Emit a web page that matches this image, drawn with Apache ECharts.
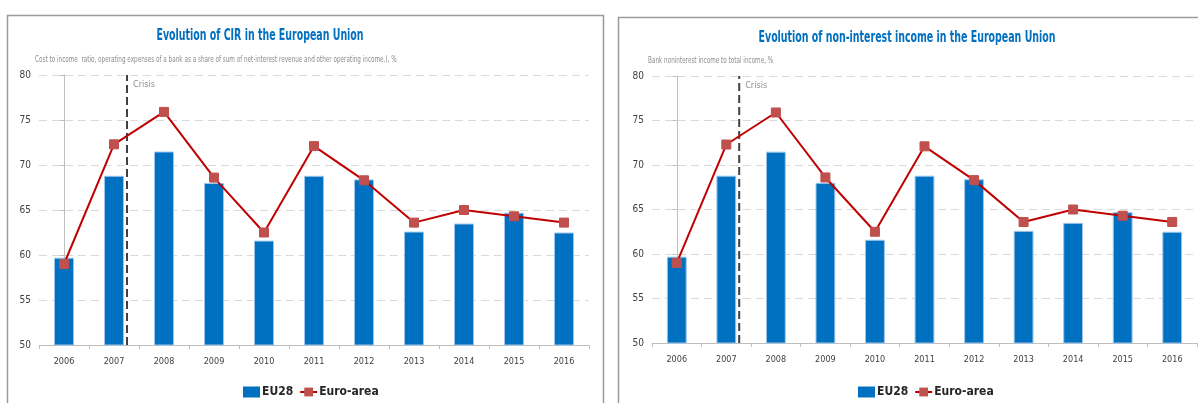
<!DOCTYPE html>
<html><head><meta charset="utf-8">
<script src="https://cdn.jsdelivr.net/npm/echarts@6/dist/echarts.min.js"></script>
<style>html,body{margin:0;padding:0;background:#fff}#c{width:1198px;height:403px}</style>
</head><body><div id="c"></div>
<script>
const years = ['2006','2007','2008','2009','2010','2011','2012','2013','2014','2015','2016'];
const eu28 = [59.7, 68.8, 71.5, 68.0, 61.6, 68.8, 68.4, 62.6, 63.5, 64.7, 62.5];
const euroArea = [59.0, 72.3, 75.9, 68.6, 62.5, 72.1, 68.3, 63.6, 65.0, 64.3, 63.6];
const crisisPos = 1.26;
const yMin = 50, yMax = 80, yStep = 5;
const titles = ['Evolution of CIR in the European Union', 'Evolution of non-interest income in the European Union'];
const subtitles = ['Cost to income  ratio, operating expenses of a bank as a share of sum of net-interest revenue and other operating income.), %', 'Bank noninterest income to total income, %'];

const FONT = '"Liberation Sans Narrow","DejaVu Sans Condensed","Open Sans",sans-serif';
const chart = echarts.init(document.getElementById('c'));

const grids = [
  {left: 39, top: 75, width: 550, height: 270},
  {left: 652, top: 76, width: 545, height: 267}
];
const titleCfg = [
  {x: 260, y: 36, sx: 35, sy: 60},
  {x: 907, y: 38, sx: 648, sy: 61}
];
const legendLeft = [243, 858];

const option = {
  animation: false,
  textStyle: {fontFamily: FONT},
  graphic: [
    {type: 'rect', shape: {x: 7.5, y: 15.5, width: 596, height: 400}, style: {fill: 'none', stroke: '#9a9a9a', lineWidth: 1.5}, silent: true},
    {type: 'rect', shape: {x: 618.5, y: 17.5, width: 600, height: 400}, style: {fill: 'none', stroke: '#9a9a9a', lineWidth: 1.5}, silent: true}
  ],
  legend: [],
  grid: grids,
  xAxis: [],
  yAxis: [],
  series: []
};

for (let p = 0; p < 2; p++) {
  option.graphic.push({
    type: 'text', x: titleCfg[p].x, y: titleCfg[p].y, scaleX: 0.7, silent: true,
    style: {text: titles[p], textAlign: 'center', textVerticalAlign: 'middle',
      font: 'bold 15px ' + FONT, fill: '#0070C0'}
  });
  option.graphic.push({
    type: 'text', x: titleCfg[p].sx, y: titleCfg[p].sy, scaleX: 0.79, silent: true,
    style: {text: subtitles[p], textAlign: 'left', textVerticalAlign: 'middle',
      font: '8px ' + FONT, fill: '#8c8c8c'}
  });
  option.legend.push({
    left: legendLeft[p], top: 386, padding: 0, itemWidth: 17, itemHeight: 11, itemGap: 6,
    textStyle: {fontFamily: FONT, fontSize: 12, fontWeight: 'bold', color: '#262626', padding: [0,0,0,-3]},
    data: [{name: 'EU28', icon: 'rect', itemStyle: {borderWidth: 0}}, {name: 'Euro-area'}]
  });
  option.xAxis.push({
    type: 'category', gridIndex: p, data: years, boundaryGap: true,
    axisLine: {show: true, lineStyle: {color: '#bfbfbf', width: 1}},
    axisTick: {show: true, length: 4, lineStyle: {color: '#bfbfbf'}},
    axisLabel: {fontFamily: FONT, fontSize: 9, color: '#404040', margin: 12}
  });
  option.xAxis.push({
    type: 'value', gridIndex: p, min: -0.5, max: years.length - 0.5, show: false
  });
  option.yAxis.push({
    type: 'value', gridIndex: p, min: yMin, max: yMax, interval: yStep,
    axisLine: {show: true, lineStyle: {color: '#bfbfbf', width: 1}},
    axisTick: {show: true, length: 4, lineStyle: {color: '#bfbfbf'}},
    axisLabel: {fontFamily: FONT, fontSize: 10, color: '#404040', margin: 8},
    splitLine: {show: true, lineStyle: {color: '#d9d9d9', type: [8, 5], width: 1}}
  });
  option.series.push({
    name: 'EU28', type: 'bar', xAxisIndex: p * 2, yAxisIndex: p, data: eu28,
    barWidth: '40%',
    itemStyle: {color: '#0070C0', borderColor: '#9cc6ec', borderWidth: 1}
  });
  option.series.push({
    name: 'Crisis', type: 'line', xAxisIndex: p * 2 + 1, yAxisIndex: p,
    data: [[crisisPos, yMin], [crisisPos, yMax]],
    symbol: 'none', silent: true, z: 3,
    lineStyle: {color: '#404040', width: 2, type: [8, 4]},
    label: {show: false},
    endLabel: {show: true, formatter: 'Crisis', color: '#8c8c8c', fontFamily: FONT, fontSize: 9, offset: [-2, 10]}
  });
  option.series.push({
    name: 'Euro-area', type: 'line', xAxisIndex: p * 2, yAxisIndex: p, data: euroArea,
    symbol: 'rect', symbolSize: 9, z: 4,
    lineStyle: {color: '#C00000', width: 2},
    itemStyle: {color: '#C0504D', borderColor: '#C0504D'}
  });
}
chart.setOption(option);
</script></body></html>
